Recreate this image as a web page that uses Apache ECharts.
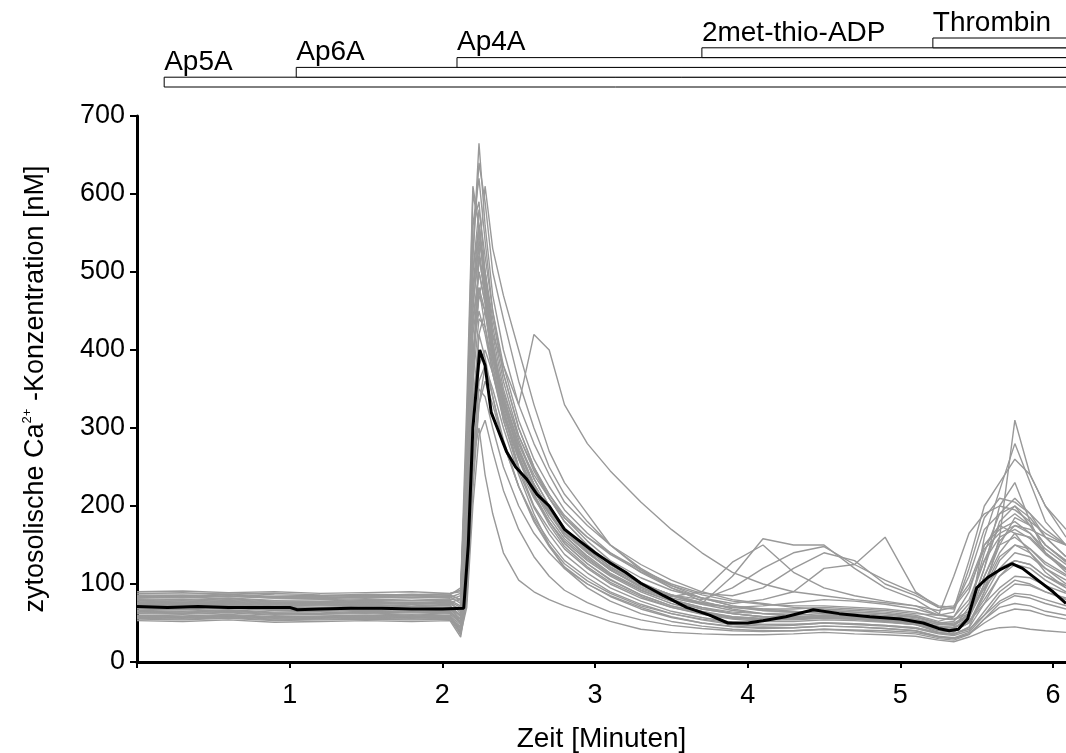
<!DOCTYPE html>
<html>
<head>
<meta charset="utf-8">
<script src="https://cdn.jsdelivr.net/npm/echarts@6/dist/echarts.min.js"></script>
<style>html,body{margin:0;padding:0;background:#fff}#c{width:1066px;height:753px}</style>
</head>
<body>
<div id="c"></div>
<script>
// ---- data ----
const X_MAX = 6.085;
const xTicks = [1, 2, 3, 4, 5, 6];
const yTicks = [0, 100, 200, 300, 400, 500, 600, 700];

const agentNames = ['Ap5A', 'Ap6A', 'Ap4A', '2met-thio-ADP', 'Thrombin'];
const agentStart = [0.178, 1.043, 2.096, 3.70, 5.213];

// shared time grid of the single-cell traces (minutes)
const T = [0, 0.3, 0.6, 0.9, 1.2, 1.5, 1.8, 2.05, 2.12, 2.16, 2.2, 2.24, 2.28, 2.33, 2.4, 2.5, 2.6, 2.7, 2.8, 2.95,
           3.1, 3.3, 3.5, 3.7, 3.9, 4.1, 4.3, 4.5, 4.7, 4.9, 5.1, 5.25, 5.35, 5.45, 5.55, 5.65, 5.75, 5.85, 5.95, 6.085];

const cellA = [88,87,89,86,85,87,86,88, 90,250,520,665,560,470,400,330,280,240,205,175,150,125,105,90,80,75,70,68,66,64,60,52,58,90,150,175,165,140,120,100];
const cellB = [85,84,86,83,82,84,83,85, 80,150,380,520,470,420,380,330,420,400,330,280,245,205,170,140,115,100,90,85,80,76,72,66,70,110,170,190,200,175,150,130];
const cellC = [80,79,81,78,78,80,79,80, 85,300,600,560,480,400,340,280,240,210,185,160,140,115,95,82,72,68,65,62,60,58,55,48,50,60,110,150,160,145,125,110];
const cellD = [77,76,78,75,76,77,75,77, 70,200,450,540,500,430,360,290,245,210,180,150,125,100,85,75,110,158,150,150,120,95,80,62,55,65,120,200,230,180,140,115];
const cellE = [72,71,73,70,70,72,71,72, 60,180,420,480,430,370,310,250,210,180,155,130,110,90,75,65,58,55,55,58,56,54,50,42,40,50,90,130,150,140,115,95];
const cellF = [65,64,66,63,63,65,64,65, 50,120,350,520,610,530,470,400,330,270,230,190,150,118,95,78,68,62,58,56,55,52,48,40,38,55,160,220,280,230,180,150];
const cellG = [62,61,63,60,61,62,60,62, 45,100,300,420,450,390,320,250,200,170,145,120,100,82,70,62,56,54,55,57,55,52,48,38,35,45,90,160,310,240,200,160];
const cellH = [58,57,59,56,57,58,57,58, 40,80,220,330,380,350,300,240,190,150,120,95,78,62,52,46,42,40,40,42,40,38,36,30,28,35,55,70,75,72,65,60];
const cellI = [55,54,56,53,54,55,54,55, 35,90,260,300,240,190,140,105,90,80,72,62,52,42,38,36,35,35,36,38,36,35,33,28,26,32,40,44,45,42,40,38];
const cellJ = [88,89,87,88,86,85,87,86, 95,280,500,580,520,450,380,310,260,225,195,165,140,118,100,88,85,95,120,140,130,100,85,70,68,130,200,230,260,240,200,170];
const cellK = [83,82,84,82,81,83,82,83, 88,260,560,620,540,450,370,300,250,215,185,155,130,108,92,82,75,80,90,120,125,160,90,70,72,100,150,170,180,165,145,125];
const cellL = [76,75,77,74,75,76,74,76, 65,160,380,470,500,440,370,300,250,210,180,150,125,102,85,74,66,62,60,62,60,58,55,48,47,58,95,120,130,125,110,95];
const cellM = [68,67,69,66,66,68,67,68, 55,200,480,560,500,420,350,285,235,200,170,142,118,96,80,70,62,58,56,58,57,55,52,45,44,52,80,110,125,120,105,90];
const cellN = [60,59,61,58,59,60,59,60, 42,110,330,420,390,340,280,225,185,155,130,108,90,74,62,54,48,46,47,50,48,46,43,36,34,40,65,90,105,100,90,80];
const cellO = [86,85,87,84,84,86,85,86, 80,220,440,500,460,400,340,280,235,200,172,145,122,100,86,76,70,68,68,70,68,66,62,60,110,165,190,200,195,180,165,150];
const cellP = [74,73,75,72,73,74,72,74, 68,230,500,560,480,400,330,270,225,192,165,140,118,98,84,90,128,150,115,95,85,78,72,60,58,80,130,175,190,175,150,130];
const cellQ = [64,63,65,62,62,64,63,64, 48,180,520,640,590,500,440,360,300,250,215,180,150,120,98,82,72,66,64,66,64,62,58,50,48,62,120,180,200,185,160,135];
const cellR = [57,56,58,55,56,57,56,57, 38,90,260,350,340,300,250,200,165,140,120,100,85,70,58,50,45,43,44,46,45,43,40,32,30,36,55,75,85,82,75,68];
const cellS = [79,78,80,77,77,79,78,79, 72,190,400,450,420,370,315,260,220,190,165,140,120,100,86,80,95,120,140,148,125,105,88,72,70,95,145,165,175,170,160,150];
const cellT = [70,69,71,68,69,70,69,70, 58,210,460,520,470,395,330,270,225,190,162,136,114,94,80,70,64,62,63,66,64,62,58,50,52,75,130,160,170,158,138,118];
const cellU = [90,91,89,90,88,89,90,88, 92,330,610,560,470,390,330,270,228,195,168,140,118,96,82,74,70,72,76,80,78,74,68,60,64,120,185,210,205,190,170,150];
const cellV = [84,83,85,82,83,84,83,84, 75,170,390,470,450,400,345,290,248,215,188,160,138,116,98,86,78,74,72,72,70,68,64,56,54,62,95,135,150,145,128,112];
const cellW = [81,80,82,79,80,81,79,81, 78,240,480,530,470,400,335,272,228,196,170,144,122,100,86,76,70,66,64,64,62,60,57,50,48,60,100,140,165,160,140,120];
const cellX = [78,77,79,76,77,78,76,78, 62,130,300,380,400,370,320,265,220,185,158,132,112,92,78,68,62,58,58,60,58,56,53,46,44,52,75,95,110,108,98,88];
const cellY = [75,74,76,73,74,75,74,75, 82,290,560,590,500,410,335,265,215,180,152,126,106,86,72,64,58,56,56,58,56,54,50,44,45,70,140,190,210,190,160,135];
const cellZ = [73,72,74,71,72,73,71,73, 50,90,240,330,360,330,280,225,182,150,126,104,88,72,62,55,50,48,48,50,49,47,44,38,36,42,60,78,88,86,80,72];
const cellAA = [69,68,70,67,68,69,68,69, 60,190,430,500,460,390,325,262,215,180,152,126,105,86,72,63,57,54,54,56,55,53,50,43,42,58,110,155,175,165,140,120];
const cellAB = [66,65,67,64,65,66,65,66, 52,140,360,440,430,380,320,260,212,176,148,122,102,84,70,61,55,52,52,54,53,51,48,41,40,50,85,120,140,135,120,105];
const cellAC = [63,62,64,61,62,63,61,63, 55,210,470,550,490,410,340,275,228,192,162,134,112,92,78,68,62,58,57,60,58,56,52,45,44,56,100,150,185,175,150,128];
const cellAD = [59,58,60,57,58,59,58,59, 36,70,200,290,310,270,220,170,135,110,92,76,64,54,47,43,40,39,40,42,41,40,38,32,30,36,50,62,68,66,60,55];
const cellAE = [56,55,57,54,55,56,55,56, 44,150,380,480,450,380,310,245,198,164,138,114,95,78,65,57,51,48,48,50,49,47,44,37,36,44,75,110,130,125,110,98];
const cellAF = [53,52,54,51,52,53,52,53, 32,80,250,360,380,340,285,225,180,148,122,100,84,68,57,50,46,44,44,46,45,43,40,33,31,38,60,85,100,98,90,82];
const cells = [cellA, cellB, cellC, cellD, cellE, cellF, cellG, cellH, cellI, cellJ, cellK, cellL, cellM, cellN, cellO, cellP,
               cellQ, cellR, cellS, cellT, cellU, cellV, cellW, cellX, cellY, cellZ, cellAA, cellAB, cellAC, cellAD, cellAE, cellAF];

// mean trace (black)
const meanT = [0,0.2,0.4,0.6,0.8,1.0,1.05,1.2,1.4,1.6,1.8,2.0,2.14,2.17,2.2,2.245,2.28,2.32,2.36,2.42,2.48,2.55,2.62,2.7,2.8,2.9,3.0,3.1,3.2,3.3,3.45,3.6,3.75,3.87,4.0,4.1,4.25,4.43,4.6,4.8,5.0,5.15,5.25,5.32,5.38,5.44,5.5,5.57,5.65,5.73,5.8,5.9,6.0,6.085];
const meanV = [71,70,71,70,70,70,67,68,69,69,68,68,69,150,300,400,380,320,300,270,250,235,215,200,170,155,140,127,115,101,85,70,60,50,50,53,58,67,62,58,55,50,43,40,42,55,95,108,118,126,120,105,90,75];

// ---- chart ----
const FONT = '"Liberation Sans", Arial, sans-serif';
const chart = echarts.init(document.getElementById('c'), null, {renderer: 'canvas'});

const series = [];
cells.forEach((c) => {
  series.push({
    type: 'line', xAxisIndex: 0, yAxisIndex: 0,
    data: T.map((t, k) => [t, c[k]]),
    showSymbol: false, silent: true,
    lineStyle: {color: '#999999', width: 1.4},
    z: 2
  });
});
series.push({
  type: 'line', xAxisIndex: 0, yAxisIndex: 0,
  data: meanT.map((t, k) => [t, meanV[k]]),
  showSymbol: false, silent: true,
  lineStyle: {color: '#000', width: 3},
  z: 3
});
series.push({
  type: 'custom', xAxisIndex: 1, yAxisIndex: 1,
  data: agentStart.map((s, i) => [s, i]),
  silent: true,
  renderItem: function (params, api) {
    const lvl = api.value(1);
    const p0 = api.coord([api.value(0), lvl]);
    const p1 = api.coord([X_MAX, lvl + 1]);
    return {
      type: 'group',
      children: [
        {type: 'rect', shape: {x: p0[0], y: p1[1], width: p1[0] - p0[0] + 2, height: p0[1] - p1[1]},
         style: {fill: '#fff', stroke: '#000', lineWidth: 1}},
        {type: 'text', x: p0[0], y: p1[1] - 1,
         style: {text: agentNames[params.dataIndex], fill: '#000', font: '28px ' + FONT,
                 textAlign: 'left', textVerticalAlign: 'bottom'}}
      ]
    };
  }
});

chart.setOption({
  animation: false,
  backgroundColor: '#fff',
  grid: [
    {left: 137, right: 0, top: 116, bottom: 91, outerBoundsMode: 'none', containLabel: false},
    {left: 137, right: 0, top: 38, height: 49, outerBoundsMode: 'none', containLabel: false}
  ],
  xAxis: [
    {
      type: 'value', gridIndex: 0, min: 0, max: X_MAX, interval: 1,
      name: 'Zeit [Minuten]', nameLocation: 'middle', nameGap: 63,
      nameTextStyle: {fontSize: 28, fontFamily: FONT, color: '#000'},
      axisLine: {show: true, onZero: false, lineStyle: {color: '#000', width: 3}},
      axisTick: {show: true, inside: false, length: 6, lineStyle: {color: '#000', width: 2}},
      axisLabel: {fontSize: 27, fontFamily: FONT, color: '#000', margin: 20, showMaxLabel: false,
        formatter: v => (xTicks.indexOf(v) >= 0 ? String(v) : '')},
      splitLine: {show: false}
    },
    {type: 'value', gridIndex: 1, min: 0, max: X_MAX, show: false}
  ],
  yAxis: [
    {
      type: 'value', gridIndex: 0, min: 0, max: 700, interval: 100,
      name: 'zytosolische Ca{sup|2+} -Konzentration [nM]', nameLocation: 'middle', nameGap: 86,
      nameTextStyle: {fontSize: 27, fontFamily: FONT, color: '#000', lineHeight: 30,
        rich: {sup: {fontSize: 13, fontFamily: FONT, color: '#000', verticalAlign: 'top', lineHeight: 30}}},
      axisLine: {show: true, lineStyle: {color: '#000', width: 3}},
      axisTick: {show: true, inside: false, length: 7, lineStyle: {color: '#000', width: 2}},
      axisLabel: {fontSize: 27, fontFamily: FONT, color: '#000', margin: 12,
        formatter: v => (yTicks.indexOf(v) >= 0 ? String(v) : '')},
      splitLine: {show: false}
    },
    {type: 'value', gridIndex: 1, min: 0, max: 5, show: false}
  ],
  series: series
});
</script>
</body>
</html>
